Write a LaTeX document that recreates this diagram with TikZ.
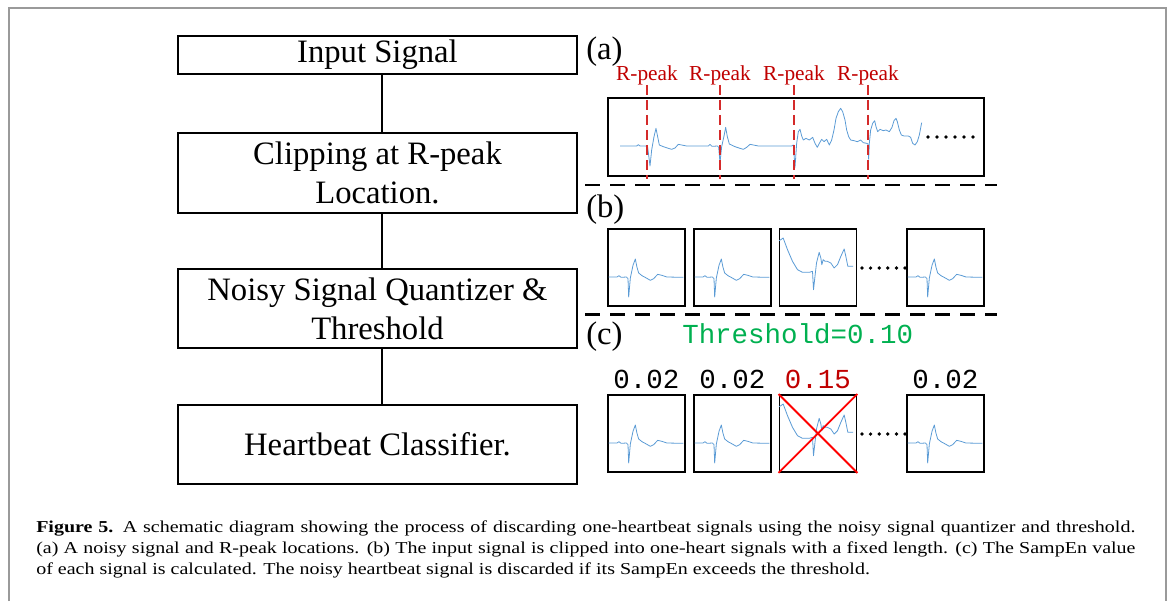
\documentclass[tikz,border=0pt]{standalone}
\usepackage{graphicx}
\usepackage{fontspec}
\setmainfont{Liberation Serif}
\newfontfamily\monof{Liberation Mono}
\usetikzlibrary{calc}
\definecolor{sigblue}{HTML}{5B9BD5}
\definecolor{rpred}{HTML}{C00000}
\definecolor{dashred}{HTML}{D42A2A}
\definecolor{thgreen}{HTML}{00B050}
\definecolor{framegray}{HTML}{9A9A9A}
\tikzset{
  flow/.style={draw, line width=1.4pt, minimum width={399*0.75pt}, inner sep=0pt, align=center, anchor=north,
    font=\fontsize{24.5}{29.25}\selectfont},
  conn/.style={line width=1.4pt},
  sbox/.style={draw, line width=1.4pt, minimum width={77*0.75pt}, minimum height={77*0.75pt}, inner sep=0pt, anchor=north west},
  sig/.style={draw=sigblue, line width=0.6pt, line join=round},
  panellab/.style={inner sep=0pt, anchor=base west, font=\fontsize{24.5}{29}\selectfont},
  rpk/.style={inner sep=0pt, anchor=base, text=rpred, font=\fontsize{16}{19}\selectfont},
  rdash/.style={draw=dashred, line width=1.1pt, dash pattern=on 7.5pt off 3.75pt},
  sepline/.style={line width=1.6pt, dash pattern=on 11.25pt off 7.5pt},
  valtext/.style={inner sep=0pt, anchor=base, font=\monof\fontsize{20.6}{24}\selectfont},
  xred/.style={draw=red, line width=1.4pt},
  capline/.style={inner sep=0pt, anchor=base west, font=\fontsize{12.5}{15}\selectfont},
  beatn/.pic={\draw[sig, scale=1/3] (5,147) -- (30,147) -- (36,143) -- (42,148) -- (58,147) -- (63,152) -- (65,207)
     -- (70,150) -- (78,112) -- (85,93) -- (90,118) -- (95,135) -- (105,143) -- (118,150) -- (130,157) -- (140,152)
     -- (152,139) -- (165,142) -- (180,147) -- (229,148);},
  beatx/.pic={\draw[sig, scale=1/3] (2,38) -- (7,35) -- (14,30) -- (27,65) -- (42,100) -- (57,125) -- (72,133) -- (92,133)
     -- (102,130) -- (105,185) -- (110,140) -- (114,105) -- (122,73) -- (127,90) -- (130,110) -- (134,95) -- (140,100)
     -- (147,100) -- (157,105) -- (167,120) -- (177,110) -- (187,85) -- (197,63) -- (202,85) -- (208,115) -- (224,115);}
}
\begin{document}
\begin{tikzpicture}[x=0.75pt,y=-0.75pt]
\useasboundingbox (0,0) rectangle (1171,601);
% outer frame
\draw[framegray, line width=1.5pt] (8.5,601) -- (8.5,7.5) -- (1165.5,7.5) -- (1165.5,601);

% flow chart
\node[flow, minimum height={38*0.75pt}] (f1) at (377.5,35) {Input Signal};
\node[flow, minimum height={80*0.75pt}] (f2) at (377.5,132) {Clipping at R-peak\\Location.};
\node[flow, minimum height={79*0.75pt}] (f3) at (377.5,268) {Noisy Signal Quantizer \&\\Threshold};
\node[flow, minimum height={79*0.75pt}] (f4) at (377.5,404) {Heartbeat Classifier.};
\coordinate (cx) at (382,0);
\draw[conn] (f1.south -| cx) -- (f2.north -| cx);
\draw[conn] (f2.south -| cx) -- (f3.north -| cx);
\draw[conn] (f3.south -| cx) -- (f4.north -| cx);

% panel labels
\node[panellab] (la) at (586,59) {(a)};
\node[panellab] (lb) at (586,217) {(b)};
\node[panellab] (lc) at (586,344) {(c)};

% separators
\draw[sepline] (585,185) -- (997,185);
\draw[sepline] (585,314.5) -- (997,314.5);

% (a) long signal
\node[draw, line width=1.4pt, anchor=north west, minimum width={376*0.75pt}, minimum height={78*0.75pt}, inner sep=0pt] (sa) at (607,97) {};
\begin{scope}[shift={(580,30)}, scale=1/3]
\draw[sig] (120,348) -- (170,348) -- (175,344) -- (180,348) -- (198,348) -- (203,352) -- (210,408) -- (215,360) -- (222,320)
 -- (228,295) -- (233,320) -- (238,345) -- (250,350) -- (262,354) -- (275,358) -- (285,354) -- (295,343) -- (305,345)
 -- (320,348) -- (385,348) -- (390,343) -- (396,349) -- (412,348) -- (416,352) -- (420,398) -- (425,350) -- (432,318)
 -- (437,292) -- (442,320) -- (448,342) -- (465,350) -- (480,355) -- (490,358) -- (500,352) -- (510,343) -- (520,345)
 -- (535,348) -- (635,348) -- (640,345) -- (645,412) -- (650,340) -- (655,305) -- (660,298) -- (665,318) -- (670,330)
 -- (678,325) -- (688,330) -- (698,322) -- (705,340) -- (712,352) -- (718,340) -- (725,328) -- (732,335) -- (740,328)
 -- (748,345) -- (755,330) -- (762,300) -- (768,265) -- (775,245) -- (782,235) -- (788,245) -- (795,270) -- (800,300)
 -- (806,320) -- (812,330) -- (822,332) -- (832,335) -- (842,330) -- (850,338) -- (860,340) -- (864,342) -- (866,388)
 -- (868,340) -- (872,300) -- (878,280) -- (884,272) -- (888,290) -- (893,305) -- (900,298) -- (910,302) -- (918,300)
 -- (928,305) -- (936,292) -- (942,272) -- (948,265) -- (952,275) -- (958,300) -- (964,315) -- (972,318) -- (985,318)
 -- (992,322) -- (998,340) -- (1005,345) -- (1012,335) -- (1018,315) -- (1025,278);
\end{scope}
\foreach \i in {0,...,5} \fill (928+\i*9,137) circle[radius=1.4pt];

% R-peak markers
\node[rpk] (r1) at (647,80) {R-peak};
\node[rpk] (r2) at (720,80) {R-peak};
\node[rpk] (r3) at (794,80) {R-peak};
\node[rpk] (r4) at (868,80) {R-peak};
\foreach \r in {r1,r2,r3,r4}
  \draw[rdash] (\r.south) -- ($(\r.south |- sa.south)+(0,2)$);

% (b) clipped beats
\node[sbox] (b1) at (607,228) {};
\node[sbox] (b2) at (693,228) {};
\node[sbox] (b3) at (778.5,228) {};
\node[sbox] (b4) at (906,228) {};
\pic at (b1.north west) {beatn};
\pic at (b2.north west) {beatn};
\pic at (b3.north west) {beatx};
\pic at (b4.north west) {beatn};
\foreach \i in {0,...,5} \fill (862+\i*8.6,268) circle[radius=1.4pt];

% (c) threshold
\node[valtext, anchor=base west, text=thgreen] (th) at (682,343) {Threshold=0.10};
\node[sbox] (c1) at (607,394) {};
\node[sbox] (c2) at (693,394) {};
\node[sbox] (c3) at (778.5,394) {};
\node[sbox] (c4) at (906,394) {};
\pic at (c1.north west) {beatn};
\pic at (c2.north west) {beatn};
\pic at (c3.north west) {beatx};
\pic at (c4.north west) {beatn};
\foreach \i in {0,...,5} \fill (862+\i*8.6,434) circle[radius=1.4pt];
\draw[xred] (c3.north west) -- (c3.south east);
\draw[xred] (c3.north east) -- (c3.south west);
\node[valtext] (v1) at ($(c1.north)+(0,-6)$) {0.02};
\node[valtext] (v2) at ($(c2.north)+(0,-6)$) {0.02};
\node[valtext, text=rpred] (v3) at ($(c3.north)+(0,-6)$) {0.15};
\node[valtext] (v4) at ($(c4.north)+(0,-6)$) {0.02};

% caption
\node[capline] (cap1) at (36,532) {\scalebox{1.2}[1]{\makebox[687pt][s]{\textbf{Figure 5.} A schematic diagram showing the process of discarding one-heartbeat signals using the noisy signal quantizer and threshold.}}};
\node[capline] (cap2) at (36,553) {\scalebox{1.2}[1]{\makebox[687pt][s]{(a) A noisy signal and R-peak locations. (b) The input signal is clipped into one-heart signals with a fixed length. (c) The SampEn value}}};
\node[capline] (cap3) at (36,574) {\scalebox{1.2}[1]{of each signal is calculated. The noisy heartbeat signal is discarded if its SampEn exceeds the threshold.}};
\end{tikzpicture}
\end{document}
